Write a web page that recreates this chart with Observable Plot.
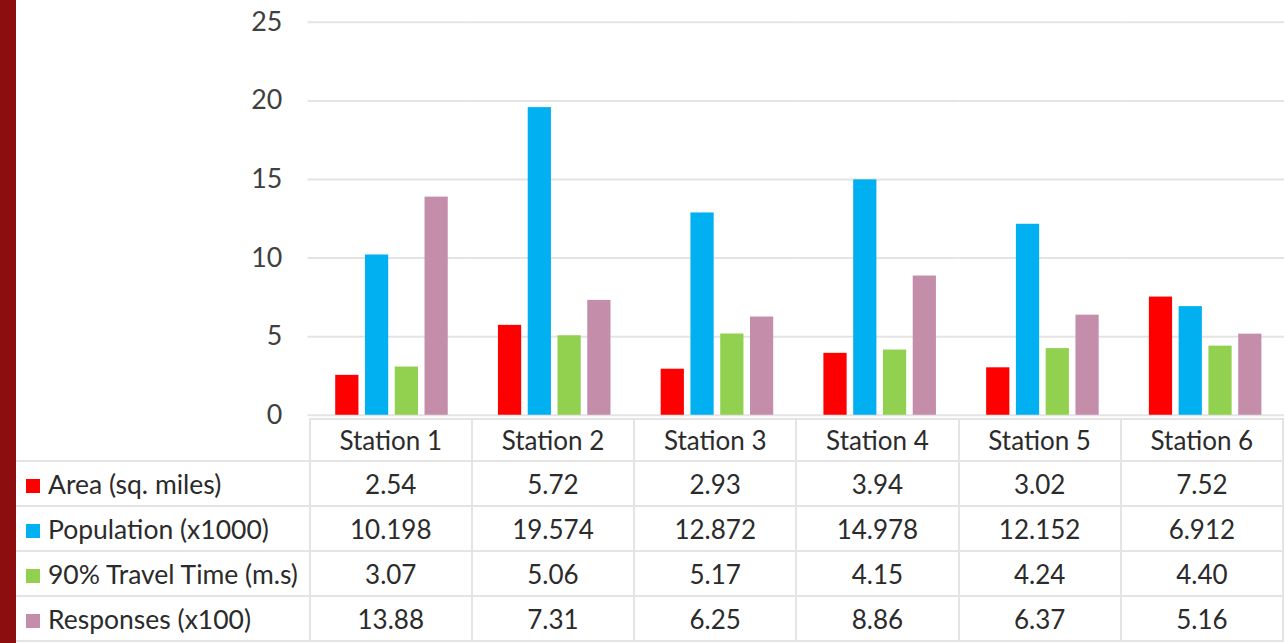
<!DOCTYPE html>
<html>
<head>
<meta charset="utf-8">
<script src="https://cdn.jsdelivr.net/npm/d3@7"></script>
<script src="https://cdn.jsdelivr.net/npm/@observablehq/plot@0.6"></script>
<style>
  html, body { margin: 0; padding: 0; background: #fff; }
  body { width: 1284px; height: 643px; overflow: hidden; position: relative; font-family: Lato, "Open Sans", sans-serif; }
  #band { position: absolute; left: 0; top: 0; width: 16px; height: 643px; background: #8C0E0F; }
  #chart { position: absolute; left: 0; top: 0; }
  #tbl { position: absolute; left: 16px; top: 418px; border-collapse: collapse; table-layout: fixed; color: #2b2b2b; font-size: 26px; line-height: 30px; }
  #tbl td { border: 2px solid #e4e4e4; text-align: center; padding: 0; white-space: nowrap; overflow: hidden; }
  #tbl td.lab { text-align: left; padding-left: 10px; font-size: 26.5px; }
  #tbl tr.head td { height: 40px; }
  #tbl tr.row td { height: 43px; }
  #tbl tr.head td.blank { border-top: none; border-left: none; }
  #tbl td.lab { border-left: none; }
  .sw { display: inline-block; width: 14px; height: 14px; margin-right: 8px; vertical-align: 1px; }
</style>
</head>
<body>
<div id="band"></div>
<div id="chart"></div>
<table id="tbl"></table>
<script>
const stations = ["Station 1", "Station 2", "Station 3", "Station 4", "Station 5", "Station 6"];
const seriesNames = ["Area (sq. miles)", "Population (x1000)", "90% Travel Time (m.s)", "Responses (x100)"];
const seriesColors = ["#FF0000", "#00B0F0", "#92D050", "#C48EAA"];
const seriesDecimals = [2, 3, 2, 2];
const area = [2.54, 5.72, 2.93, 3.94, 3.02, 7.52];
const population = [10.198, 19.574, 12.872, 14.978, 12.152, 6.912];
const travelTime = [3.07, 5.06, 5.17, 4.15, 4.24, 4.40];
const responses = [13.88, 7.31, 6.25, 8.86, 6.37, 5.16];
const yTicks = [0, 5, 10, 15, 20, 25];

const seriesValues = [area, population, travelTime, responses];
const data = [];
stations.forEach((s, i) => {
  seriesNames.forEach((n, j) => {
    data.push({station: s, series: n, value: seriesValues[j][i]});
  });
});

const chart = Plot.plot({
  width: 1294,
  height: 420,
  marginTop: 22,
  marginBottom: 2,
  marginLeft: 310,
  marginRight: 0,
  style: {fontFamily: "Lato, 'Open Sans', sans-serif", fontSize: "27px", color: "#404040", background: "transparent", overflow: "visible"},
  fx: {domain: stations, padding: 0, axis: null, label: null, round: false},
  x: {domain: seriesNames, paddingInner: 0.22, paddingOuter: 0.843, align: 0.55, round: false, axis: null},
  y: {domain: [0, 25], ticks: yTicks, tickSize: 0, tickPadding: 26, label: null},
  color: {domain: seriesNames, range: seriesColors},
  marks: [
    Plot.ruleY(yTicks, {stroke: "#e4e4e4", strokeWidth: 2}),
    Plot.barY(data, {fx: "station", x: "series", y: "value", fill: "series"})
  ]
});
document.getElementById("chart").appendChild(chart);

// data table with legend keys
const tbl = document.getElementById("tbl");
const colgroup = document.createElement("colgroup");
const c0 = document.createElement("col"); c0.style.width = "294px"; colgroup.appendChild(c0);
stations.forEach(() => { const c = document.createElement("col"); c.style.width = "164px"; colgroup.appendChild(c); });
tbl.appendChild(colgroup);
const head = document.createElement("tr"); head.className = "head";
const blank = document.createElement("td"); blank.className = "blank lab"; head.appendChild(blank);
stations.forEach(s => { const td = document.createElement("td"); td.textContent = s; head.appendChild(td); });
tbl.appendChild(head);
seriesNames.forEach((n, j) => {
  const tr = document.createElement("tr"); tr.className = "row";
  const lab = document.createElement("td"); lab.className = "lab";
  const sw = document.createElement("span"); sw.className = "sw"; sw.style.background = seriesColors[j];
  lab.appendChild(sw); lab.appendChild(document.createTextNode(n));
  tr.appendChild(lab);
  seriesValues[j].forEach(v => { const td = document.createElement("td"); td.textContent = v.toFixed(seriesDecimals[j]); tr.appendChild(td); });
  tbl.appendChild(tr);
});
</script>
</body>
</html>
